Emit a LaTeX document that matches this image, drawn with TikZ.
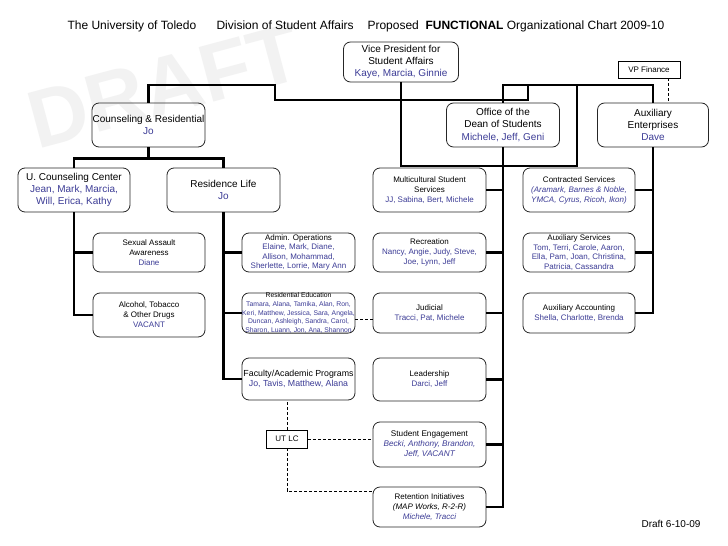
\documentclass[tikz,border=0pt]{standalone}
\usepackage{fontspec}
\setmainfont{Liberation Sans}
\definecolor{staff}{RGB}{60,60,150}
\newcommand{\crew}[1]{\textcolor{staff}{#1}}
\tikzset{
  unit/.style={draw=black!85, line width=0.8pt, rounded corners=7pt, align=center,
    inner sep=0pt, minimum width=113pt, minimum height=40pt,
    font=\fontsize{8}{10}\selectfont},
  head/.style={unit, minimum height=44pt, font=\fontsize{10}{12.3}\selectfont},
  tag/.style={draw, line width=0.8pt, inner sep=0pt, font=\fontsize{8}{9}\selectfont},
  link/.style={line width=2.2pt},
  weak/.style={line width=0.9pt, dash pattern=on 3pt off 2pt},
}
\begin{document}
\begin{tikzpicture}[x=1pt, y=-1pt]
        \fill [white] (0,0) rectangle (728,546);
        \useasboundingbox (0,0) rectangle (728,546);
        % watermark and headings
        \node [rotate=15, text=black!5, font=\fontsize{82}{82}\selectfont\bfseries] (mark) at (164,86) {DRAFT};
        \node [anchor=base west, font=\fontsize{12}{14}\selectfont] (uni) at (64,29) {The University of Toledo};
        \node [anchor=base west, font=\fontsize{12}{14}\selectfont] (div) at (213,29) {Division of Student Affairs};
        \node [anchor=base west, font=\fontsize{12}{14}\selectfont] (plan) at (364,29) {Proposed\ \ \textbf{FUNCTIONAL} Organizational Chart 2009-10};
        \node [anchor=base east, font=\fontsize{10}{12}\selectfont] (stamp) at (704,527) {Draft 6-10-09};
        % top level
        \node [head, minimum width=115pt, minimum height=40pt] (vp) at (401,62) {Vice President for\\Student Affairs\\\crew{Kaye, Marcia, Ginnie}};
        \node [tag, minimum width=62pt, minimum height=17pt] (vpfin) at (649,69.5) {VP Finance};
        \node [head] (couns) at (148.5,125) {Counseling \& Residential\\\crew{Jo}};
        \node [head] (dean) at (503,125) {Office of the\\Dean of Students\\\crew{Michele, Jeff, Geni}};
        \node [head, minimum width=111pt] (aux) at (653,125) {Auxiliary\\Enterprises\\\crew{Dave}};
        % counseling side
        \node [head, minimum width=112pt] (ucc) at (74,190) {U. Counseling Center\\\crew{Jean, Mark, Marcia,}\\\crew{Will, Erica, Kathy}};
        \node [head] (reslife) at (223.5,190) {Residence Life\\\crew{Jo}};
        \node [unit, minimum width=112pt, minimum height=39pt] (sexual) at (149,252.5) {Sexual Assault\\Awareness\\\crew{Diane}};
        \node [unit, minimum width=112pt, minimum height=44pt] (alcohol) at (149,315) {Alcohol, Tobacco\\\& Other Drugs\\\crew{VACANT}};
        \node [unit, minimum height=39pt, font=\fontsize{8}{9.5}\selectfont] (admin) at (298.5,252.5) {Admin. Operations\\\crew{Elaine, Mark, Diane,}\\\crew{Allison, Mohammad,}\\\crew{Sherlette, Lorrie, Mary Ann}};
        \node [unit, font=\fontsize{6.8}{8.6}\selectfont] (resed) at (298.5,313) {Residential Education\\\crew{Tamara, Alana, Tamika, Alan, Ron,}\\\crew{Keri, Matthew, Jessica, Sara, Angela,}\\\crew{Duncan, Ashleigh, Sandra, Carol,}\\\crew{Sharon, Luann, Jon, Ana, Shannon}};
        \node [unit, minimum height=42pt, font=\fontsize{8.8}{10.5}\selectfont] (faculty) at (298.5,379) {Faculty/Academic Programs\\\crew{Jo, Tavis, Matthew, Alana}};
        \node [tag, minimum width=41pt, minimum height=18pt] (utlc) at (287,439) {UT LC};
        % dean side
        \node [unit, minimum height=44pt] (multi) at (429.5,190) {Multicultural Student\\Services\\\crew{JJ, Sabina, Bert, Michele}};
        \node [unit, minimum height=39pt] (recr) at (429.5,252.5) {Recreation\\\crew{Nancy, Angie, Judy, Steve,}\\\crew{Joe, Lynn, Jeff}};
        \node [unit] (judicial) at (429.5,313) {Judicial\\\crew{Tracci, Pat, Michele}};
        \node [unit, minimum height=43pt] (leader) at (429.5,379.5) {Leadership\\\crew{Darci, Jeff}};
        \node [unit, minimum height=45pt, font=\fontsize{8.2}{10}\selectfont] (engage) at (429.5,444.5) {Student Engagement\\\crew{\itshape Becki, Anthony, Brandon,}\\\crew{\itshape Jeff, VACANT}};
        \node [unit] (retent) at (429.5,507) {Retention Initiatives\\\textit{(MAP Works, R-2-R)}\\\crew{\itshape Michele, Tracci}};
        % auxiliary side
        \node [unit, minimum width=112pt, minimum height=44pt] (contr) at (579,190) {Contracted Services\\\crew{\itshape (Aramark, Barnes \& Noble,}\\\crew{\itshape YMCA, Cyrus, Ricoh, Ikon)}};
        \node [unit, minimum width=112pt, minimum height=39pt, font=\fontsize{8}{9.6}\selectfont] (auxserv) at (579,252.5) {Auxiliary Services\\\crew{Tom, Terri, Carole, Aaron,}\\\crew{Ella, Pam, Joan, Christina,}\\\crew{Patricia, Cassandra}};
        \node [unit, minimum width=112pt] (auxacc) at (579,313) {Auxiliary Accounting\\\crew{Shella, Charlotte, Brenda}};
        % junctions
        \coordinate (knee) at (401,166);
        \coordinate (tap) at (577,85);
        \coordinate (split) at (528,85);
        % reporting lines
        \draw [link] (vp.south) -- (knee) -| (tap);
        \draw [link] (dean.north) -- ++(0,-18) -| (aux.north);
        \draw [link] (split) -- ++(0,15) -| ++(-253,-15) -| (couns.north);
        \draw [link] (couns.south) -- ++(0,11) -| (ucc.north);
        \draw [link] (couns.south) -- ++(0,11) -| (reslife.north);
        \draw [link] (ucc.south) |- (sexual.west);
        \draw [link] (ucc.south) |- (alcohol.west);
        \draw [link] (reslife.south) |- (admin.west);
        \draw [link] (reslife.south) |- (resed.west);
        \draw [link] (reslife.south) |- (faculty.west);
        \draw [link] (dean.south) |- (multi.east);
        \draw [link] (dean.south) |- (recr.east);
        \draw [link] (dean.south) |- (judicial.east);
        \draw [link] (dean.south) |- (leader.east);
        \draw [link] (dean.south) |- (engage.east);
        \draw [link] (dean.south) |- (retent.east);
        \draw [link] (aux.south) |- (contr.east);
        \draw [link] (aux.south) |- (auxserv.east);
        \draw [link] (aux.south) |- (auxacc.east);
        % dotted ties
        \draw [weak] ([xshift=-12pt]vpfin.south east) -- ([xshift=-12pt]vpfin.south east |- aux.north);
        \draw [weak] ([yshift=-6pt]resed.east) -- ([yshift=-6pt]judicial.west);
        \draw [weak] (utlc.north) -- (utlc.north |- faculty.south);
        \draw [weak] (utlc.east) -- (utlc.east -| engage.west);
        \draw [weak] (utlc.south) |- ([yshift=16pt]retent.west);
    \end{tikzpicture}
\end{document}
